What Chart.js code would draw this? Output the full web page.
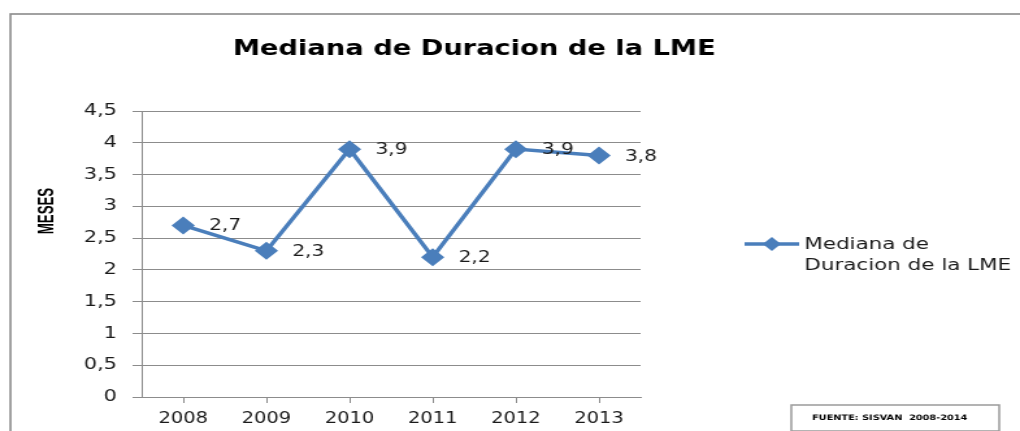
<!DOCTYPE html>
<html>
<head>
<meta charset="utf-8">
<script src="https://cdn.jsdelivr.net/npm/chart.js@4/dist/chart.umd.min.js"></script>
<style>
  html, body { margin: 0; padding: 0; background: #fff; overflow: hidden; }
  /* the reference is stretched sideways, so the canvas is drawn narrow and widened by css */
  #grafico { display: block; width: 1020px !important; height: 431px !important; }
</style>
</head>
<body>
<canvas id="grafico" width="785" height="431"></canvas>
<script>
const anios = ["2008", "2009", "2010", "2011", "2012", "2013"];
const mediana = [2.7, 2.3, 3.9, 2.2, 3.9, 3.8];
const ticksY = [0, 0.5, 1, 1.5, 2, 2.5, 3, 3.5, 4, 4.5];

const titulo = "Mediana de Duracion de la LME";
const tituloY = "MESES";
const leyenda = ["Mediana de", "Duracion de la LME"];
const fuente = "FUENTE: SISVAN  2008-2014";

const azul = '#4a7ebb';
const gris = '#8c8c8c';
const coma = v => String(v).replace('.', ',');

const decorado = {
  id: 'decorado',
  beforeDraw(chart) {
    const c = chart.ctx;
    c.save();
    c.strokeStyle = '#8a8a8a';
    c.lineWidth = 1.6;
    c.strokeRect(8, 14, 2000, 1000);
    c.restore();
  },
  afterDraw(chart) {
    const c = chart.ctx;
    c.save();

    // titulo
    c.fillStyle = '#000';
    c.font = 'bold 21px "DejaVu Sans"';
    c.textAlign = 'center';
    c.textBaseline = 'middle';
    c.fillText(titulo, 365, 50);

    // titulo eje y (letra angosta)
    c.save();
    c.translate(36, 211);
    c.rotate(-Math.PI / 2);
    c.scale(0.78, 1);
    c.font = 'bold 17px "Liberation Sans"';
    c.fillText(tituloY, 0, 0);
    c.restore();

    // etiquetas de datos
    const meta = chart.getDatasetMeta(0);
    c.font = '15.5px "DejaVu Sans"';
    c.fillStyle = '#1a1a1a';
    c.textAlign = 'left';
    meta.data.forEach((p, i) => {
      c.fillText(coma(mediana[i]), p.x + 20, p.y + 1);
    });

    // leyenda
    c.strokeStyle = azul;
    c.lineWidth = 3.5;
    c.beginPath();
    c.moveTo(573, 244);
    c.lineTo(615, 244);
    c.stroke();
    c.fillStyle = azul;
    c.beginPath();
    c.moveTo(594, 237); c.lineTo(601, 244); c.lineTo(594, 251); c.lineTo(587, 244);
    c.closePath();
    c.fill();
    c.fillStyle = '#1a1a1a';
    c.font = '16.5px "DejaVu Sans"';
    c.fillText(leyenda[0], 619, 245);
    c.fillText(leyenda[1], 619, 266);

    // fuente
    c.strokeStyle = '#9a9a9a';
    c.lineWidth = 1.5;
    c.strokeRect(609, 405, 160, 26);
    c.fillStyle = '#000';
    c.font = 'bold 7.5px "DejaVu Sans"';
    c.fillText(fuente, 625, 418);

    c.restore();
  }
};

new Chart(document.getElementById('grafico').getContext('2d'), {
  type: 'line',
  data: {
    labels: anios,
    datasets: [{
      label: leyenda.join(' '),
      data: mediana,
      borderColor: azul,
      backgroundColor: azul,
      borderWidth: 3.5,
      pointStyle: 'rectRot',
      pointRadius: 9,
      pointHoverRadius: 9,
      pointBorderWidth: 0,
      tension: 0
    }]
  },
  options: {
    responsive: false,
    animation: false,
    events: [],
    layout: { padding: { left: 0, top: 111, right: 292, bottom: 0 } },
    plugins: {
      legend: { display: false },
      title: { display: false },
      tooltip: { enabled: false }
    },
    scales: {
      x: {
        offset: true,
        grid: { drawOnChartArea: false, tickLength: 6, color: gris },
        border: { color: gris },
        ticks: { color: '#1a1a1a', padding: 7, font: { family: 'DejaVu Sans', size: 15 } },
        afterFit: s => { s.height = 34; }
      },
      y: {
        min: 0,
        max: 4.5,
        afterBuildTicks: s => { s.ticks = ticksY.map(v => ({ value: v })); },
        grid: { tickLength: 7, color: gris },
        border: { color: gris },
        ticks: { color: '#1a1a1a', padding: 12, font: { family: 'DejaVu Sans', size: 16 }, callback: v => coma(v) },
        afterFit: s => { s.width = 109; }
      }
    }
  },
  plugins: [decorado]
});
</script>
</body>
</html>
